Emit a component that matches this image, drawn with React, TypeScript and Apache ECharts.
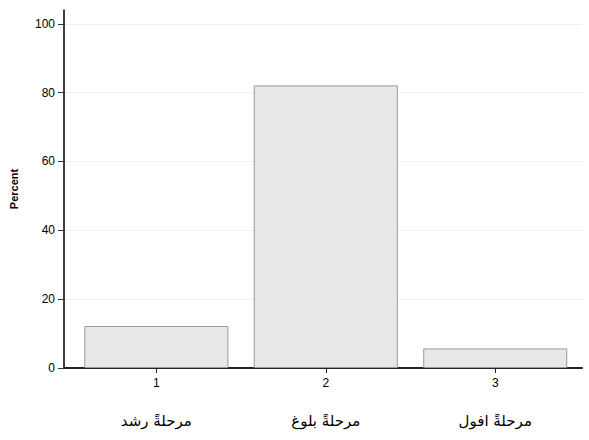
import * as echarts from 'echarts';
import { useEffect, useRef } from 'react';

const codes = [1, 2, 3];
const stages = ['مرحلةً رشد', 'مرحلةً بلوغ', 'مرحلةً افول'];
const percents = [12.2, 82.1, 5.7];
const yTicks = [0, 20, 40, 60, 80, 100];

export default function App() {
  const chartRef = useRef<HTMLDivElement>(null);

  useEffect(() => {
    if (!chartRef.current) return;
    const chart = echarts.init(chartRef.current, null, { renderer: 'svg' });
    chart.setOption({
      animation: false,
      backgroundColor: '#fff',
      grid: { left: 64, right: 7, top: 10, bottom: 72, outerBoundsMode: 'none' },
      xAxis: {
        type: 'value',
        min: 0.455,
        max: 3.512,
        splitLine: { show: false },
        axisLine: { show: true, lineStyle: { color: '#222', width: 2 } },
        axisTick: {
          show: true,
          length: 5,
          customValues: codes,
          lineStyle: { color: '#222' },
        },
        axisLabel: {
          customValues: codes,
          margin: 8,
          formatter: (v: number) => {
            const i = codes.indexOf(Math.round(v));
            return `{n|${v}}\n{a|${stages[i]}}`;
          },
          rich: {
            n: {
              fontFamily: 'Liberation Sans, Arial, sans-serif',
              fontSize: 12,
              color: '#000',
              lineHeight: 14,
            },
            a: {
              fontFamily: 'DejaVu Sans, serif',
              fontSize: 15,
              color: '#000',
              lineHeight: 61,
              verticalAlign: 'middle',
            },
          },
        },
      },
      yAxis: {
        type: 'value',
        min: 0,
        max: 104,
        interval: 20,
        name: 'Percent',
        nameLocation: 'middle',
        nameGap: 45,
        nameTextStyle: {
          fontFamily: 'Liberation Sans, Arial, sans-serif',
          fontSize: 11,
          fontWeight: 'bold',
          color: '#000',
        },
        axisLine: { show: true, lineStyle: { color: '#000', width: 1.5 } },
        axisTick: {
          show: true,
          length: 6,
          customValues: yTicks,
          lineStyle: { color: '#333' },
        },
        axisLabel: {
          customValues: yTicks,
          margin: 9,
          fontFamily: 'Liberation Sans, Arial, sans-serif',
          fontSize: 12,
          color: '#000',
        },
        splitLine: { show: true, lineStyle: { color: '#efefef', width: 1 } },
      },
      series: [
        {
          type: 'bar',
          barWidth: 144,
          data: codes.map((c, i) => [c, percents[i]]),
          itemStyle: { color: '#e8e8e8', borderColor: '#9a9a9a', borderWidth: 1 },
        },
      ],
    });
    return () => chart.dispose();
  }, []);

  return (
    <div
      ref={chartRef}
      style={{ position: 'fixed', left: 0, top: 0, width: 589, height: 440 }}
    />
  );
}
